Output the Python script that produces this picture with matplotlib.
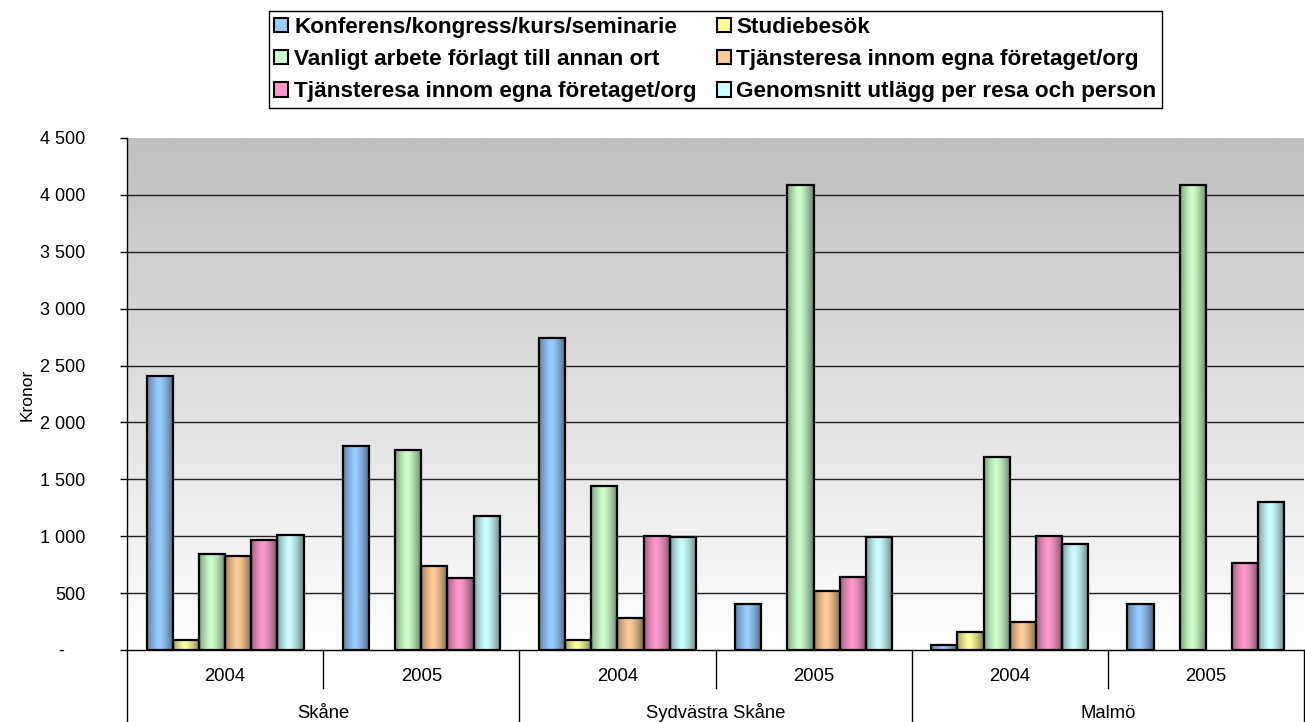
import numpy as np
import matplotlib
matplotlib.use('Agg')
import matplotlib.pyplot as plt
from matplotlib.patches import Patch
from matplotlib.colors import to_rgb
from matplotlib.ticker import FuncFormatter, FixedLocator
from matplotlib.lines import Line2D

plt.rcParams['font.family'] = ['Liberation Sans', 'DejaVu Sans']

# ---------------- data ----------------
regions = ['Skåne', 'Sydvästra Skåne', 'Malmö']
years = ['2004', '2005']
series_names = [
    'Konferens/kongress/kurs/seminarie',
    'Studiebesök',
    'Vanligt arbete förlagt till annan ort',
    'Tjänsteresa innom egna företaget/org',
    'Tjänsteresa innom egna företaget/org',
    'Genomsnitt utlägg per resa och person',
]
konferens = [2410, 1795, 2745, 405, 45, 405]
studiebesok = [85, np.nan, 85, np.nan, 155, np.nan]
vanligt = [845, 1760, 1440, 4090, 1700, 4090]
tjanst_a = [830, 735, 280, 520, 245, np.nan]
tjanst_b = [965, 635, 1005, 640, 1005, 765]
genomsnitt = [1015, 1180, 995, 995, 930, 1300]
series_values = [konferens, studiebesok, vanligt, tjanst_a, tjanst_b, genomsnitt]
colors = ['#99CCFF', '#FFFF99', '#CCFFCC', '#FFCC99', '#FF99CC', '#CCFFFF']
yticks = [0, 500, 1000, 1500, 2000, 2500, 3000, 3500, 4000, 4500]

# ---------------- figure ----------------
W, H = 1305, 722
fig = plt.figure(figsize=(W / 100, H / 100), dpi=100)
ax_l, ax_r, ax_t, ax_b = 127, 1304, 138, 650
ax = fig.add_axes([ax_l / W, 1 - ax_b / H, (ax_r - ax_l) / W, (ax_b - ax_t) / H])

ncat = len(regions) * len(years)
ax.set_xlim(0, ncat)
ax.set_ylim(0, 4500)

# background gradient
grad = np.linspace(0, 1, 256).reshape(-1, 1)
top = np.array(to_rgb('#C0C0C0'))
bot = np.array([1.0, 1.0, 1.0])
bg = (bot[None, None, :] * (1 - grad[..., None]) + top[None, None, :] * grad[..., None])
ax.imshow(bg, extent=(0, ncat, 0, 4500), origin='lower', aspect='auto', zorder=0,
          interpolation='bilinear')

# gridlines
for yv in yticks[1:-1]:
    ax.axhline(yv, color='#202020', lw=1.0, zorder=1)

# bars
nser = len(series_values)
bw = 1 / (nser + 1.5)
xc = np.arange(ncat) + 0.5
t = np.linspace(0, 1, 64)
d = np.clip(np.abs(t - 0.45) / 0.55, 0, 1) ** 1.4 * 0.5
for j, (vals, col) in enumerate(zip(series_values, colors)):
    vals_arr = np.array(vals, dtype=float)
    xs = xc + (j - (nser - 1) / 2) * bw
    mask = ~np.isnan(vals_arr)
    bars = ax.bar(xs[mask], vals_arr[mask], width=bw, facecolor='none',
                  edgecolor='black', linewidth=1.6, zorder=3)
    c = np.array(to_rgb(col))
    strip = (c[None, :] * (1 - d[:, None])).reshape(1, -1, 3)
    for b in bars:
        x0 = b.get_x()
        ax.imshow(strip, extent=(x0, x0 + b.get_width(), 0, b.get_height()),
                  aspect='auto', zorder=2, interpolation='bilinear')

ax.set_xlim(0, ncat)
ax.set_ylim(0, 4500)

# axes styling
for s in ['top', 'right']:
    ax.spines[s].set_visible(False)
ax.spines['left'].set_linewidth(1.0)
ax.spines['bottom'].set_linewidth(1.0)
ax.yaxis.set_major_locator(FixedLocator(yticks))
ax.yaxis.set_major_formatter(FuncFormatter(
    lambda v, p: '-    ' if v == 0 else f'{int(v):,}'.replace(',', ' ')))
ax.tick_params(axis='y', direction='out', length=5, width=1, labelsize=13, pad=25)
ax.set_xticks([])
fig.text(27 / W, 1 - 395 / H, 'Kronor', rotation=90, ha='center', va='center',
         fontsize=12.5)

# two-level x labels
trans = ax.get_xaxis_transform()
def ax_frac(px):
    return -(px - ax_b) / (ax_b - ax_t)

for i in range(ncat):
    ax.text(i + 0.5, ax_frac(681), years[i % 2], ha='center', va='baseline',
            fontsize=13.3, transform=trans)
for r, name in enumerate(regions):
    ax.text(2 * r + 1, ax_frac(718), name, ha='center', va='baseline',
            fontsize=13.3, transform=trans)
for i in range(ncat + 1):
    ybot = ax_frac(722) if i % 2 == 0 else ax_frac(688)
    ax.add_line(Line2D([i, i], [0, ybot], color='black', lw=1.0,
                       transform=trans, clip_on=False))

# legend (row-major ordering)
handles = [Patch(facecolor=c, edgecolor='black', linewidth=1.5) for c in colors]
order = [0, 2, 4, 1, 3, 5]
leg = fig.legend([handles[k] for k in order], [series_names[k] for k in order],
                 ncol=2, loc='center', bbox_to_anchor=(715.5 / W, 1 - 59.5 / H),
                 frameon=True, fancybox=False, edgecolor='black', framealpha=1,
                 prop={'weight': 'bold', 'size': 16.2}, handlelength=0.62,
                 handleheight=0.62, handletextpad=0.25, columnspacing=0.9,
                 labelspacing=0.5, borderpad=0.25, borderaxespad=0)
leg.get_frame().set_linewidth(1.0)

fig.savefig('out.png', dpi=100)
